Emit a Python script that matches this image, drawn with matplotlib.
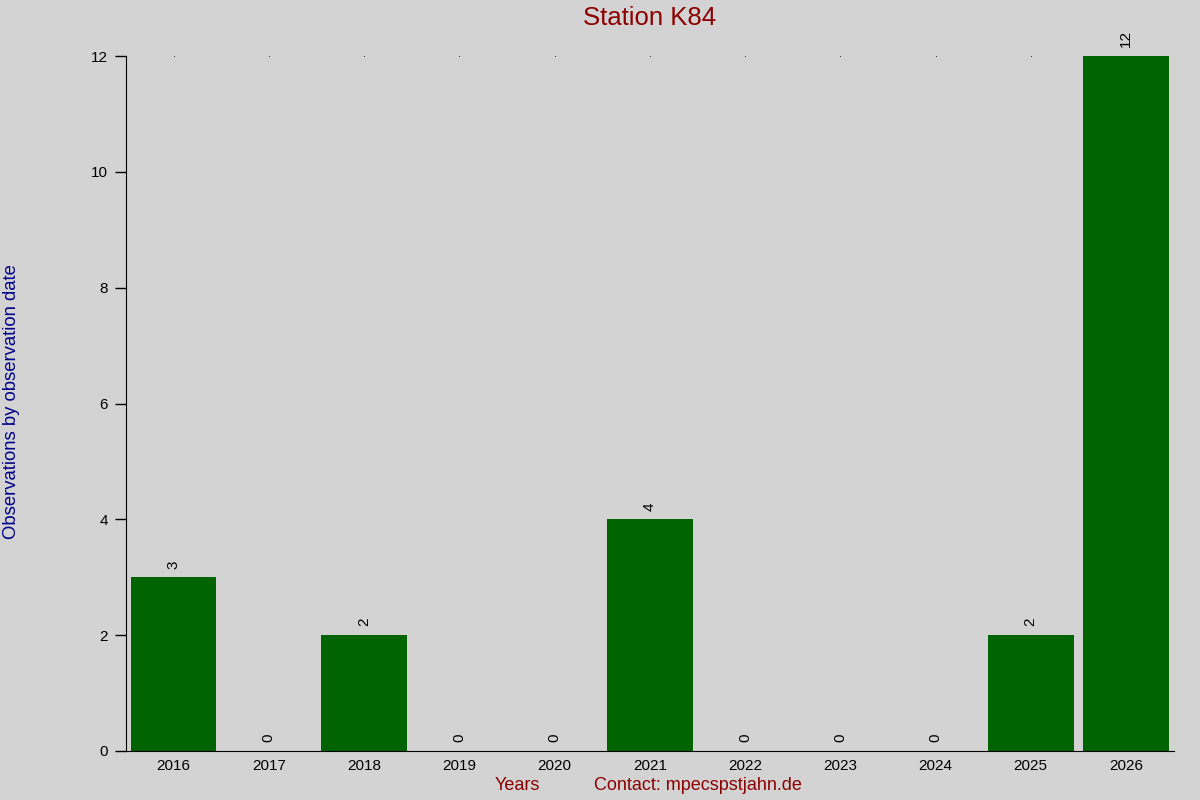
import matplotlib
matplotlib.use("Agg")
import matplotlib.pyplot as plt

years = ["2016", "2017", "2018", "2019", "2020", "2021", "2022", "2023", "2024", "2025", "2026"]
counts = [3, 0, 2, 0, 0, 4, 0, 0, 0, 2, 12]
yticks = [0, 2, 4, 6, 8, 10, 12]

plt.rcParams['font.family'] = ['Liberation Sans', 'DejaVu Sans']
bg = '#d3d3d3'
fig = plt.figure(figsize=(12, 8), dpi=100, facecolor=bg)
ax = fig.add_axes([0.105, 0.06125, 0.873, 0.86875], facecolor=bg)

x = list(range(len(years)))
for xi in x:
    ax.plot([xi], [12], marker='s', markersize=0.5, markeredgewidth=0, color='black',
            clip_on=False, zorder=1)
ax.bar(x, counts, width=0.9, color='#006400', zorder=2)
for xi, v in zip(x, counts):
    ax.text(xi, v + 0.15, str(v), rotation=90, ha='center', va='bottom', fontsize=11, color='black')

ax.set_xlim(-0.5, len(years) - 0.5)
ax.set_ylim(0, 12)
ax.set_xticks(x)
ax.set_xticklabels(years, fontsize=11)
ax.set_yticks(yticks)
ax.set_yticklabels([str(t) for t in yticks], fontsize=11)
ax.tick_params(axis='x', length=0, pad=6)
ax.tick_params(axis='y', length=8, width=1, direction='out', pad=5)
ax.spines['top'].set_visible(False)
ax.spines['right'].set_visible(False)

fig.text(0.541, 0.977, "Station K84", ha='center', va='center', fontsize=18.5, color='#8b0000')
fig.text(0.431, 0.0175, "Years", ha='center', va='center', fontsize=13, color='#8b0000')
fig.text(0.5817, 0.0175, "Contact: mpecspstjahn.de", ha='center', va='center', fontsize=13, color='#8b0000')
fig.text(0.01, 0.4985, "Observations by observation date", ha='center', va='center', rotation=90, fontsize=13.3, color='#00008b')

fig.savefig("out.png", dpi=100, facecolor=bg)
